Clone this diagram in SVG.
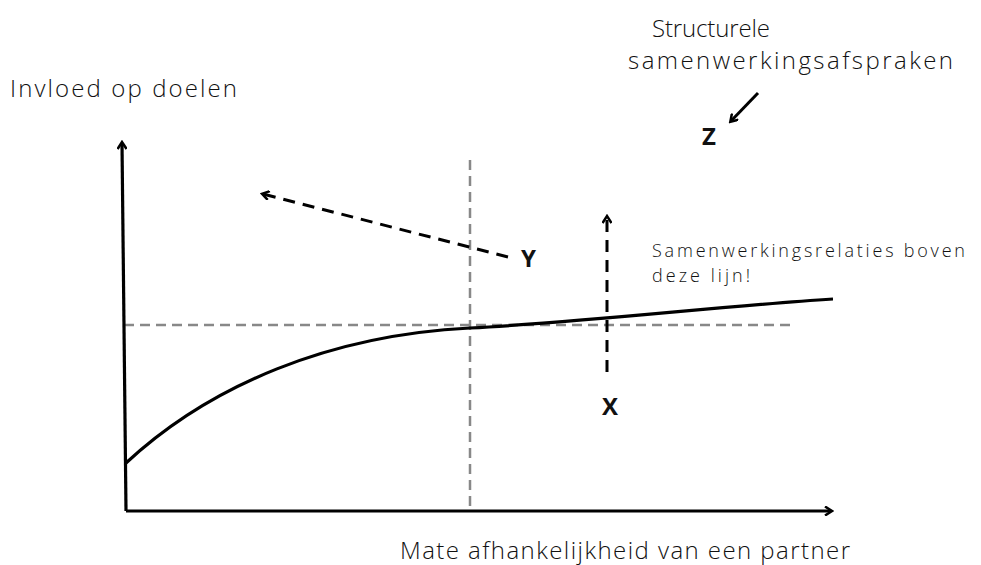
<svg xmlns="http://www.w3.org/2000/svg" width="981" height="565" viewBox="0 0 981 565">
<defs>
<style>
.lbl{font-family:"Open Sans",Lato,"Liberation Sans",sans-serif;font-weight:300;fill:#111}
.big{font-size:24px}
.small{font-size:18px}
.bold{font-family:"Open Sans","Liberation Sans",sans-serif;font-weight:bold;font-size:24px;fill:#111}
.axis{stroke:#000;stroke-width:3.2;fill:none}
.gray{stroke:#888;stroke-width:2.5;stroke-dasharray:10 6;fill:none}
.dash{stroke:#000;stroke-width:3;stroke-dasharray:12 8;fill:none}
</style>
<marker id="ah" markerWidth="10" markerHeight="10" refX="7" refY="5" orient="auto" markerUnits="userSpaceOnUse" viewBox="0 0 10 10">
<path d="M1,0.5 L8,5 L1,9.5" fill="none" stroke="#000" stroke-width="2.5"/>
</marker>
</defs>
<rect width="981" height="565" fill="#fff"/>
<g id="connectors">
<path class="gray" d="M124,325 H795"/>
<path class="gray" d="M470,160 V510"/>
<path class="axis" d="M126,511 L122,143" marker-end="url(#ah)"/>
<path class="axis" d="M126,511 H831" marker-end="url(#ah)"/>
<path class="axis" d="M126,463 C210,385 330,335 470,328 C600,321 720,306 833,299"/>
<path class="dash" d="M508,257 L263,194" marker-end="url(#ah)"/>
<path class="dash" d="M607,372 V217" marker-end="url(#ah)"/>
<path d="M758,93 L731,121" stroke="#000" stroke-width="3" fill="none" marker-end="url(#ah)"/>
</g>
<g id="label-y-axis"><text class="lbl big" x="10" y="97" textLength="227" lengthAdjust="spacing">Invloed op doelen</text></g>
<g id="label-x-axis"><text class="lbl big" x="400" y="559" textLength="450" lengthAdjust="spacing">Mate afhankelijkheid van een partner</text></g>
<g id="label-z-desc"><text class="lbl big" x="652" y="37" textLength="118" lengthAdjust="spacing">Structurele</text><text class="lbl big" x="628" y="69" textLength="325" lengthAdjust="spacing">samenwerkingsafspraken</text></g>
<g id="label-line"><text class="lbl small" x="652" y="257" textLength="313" lengthAdjust="spacing">Samenwerkingsrelaties boven</text><text class="lbl small" x="652" y="282" textLength="98" lengthAdjust="spacing">deze lijn!</text></g>
<g id="node-x"><text class="bold" x="602" y="415">X</text></g>
<g id="node-y"><text class="bold" x="521" y="267">Y</text></g>
<g id="node-z"><text class="bold" x="702" y="145">Z</text></g>
</svg>
